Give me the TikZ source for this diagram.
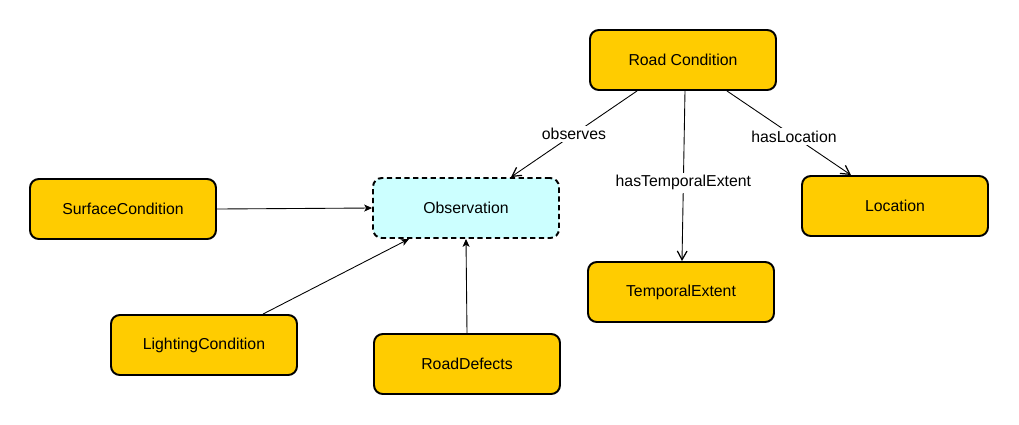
\documentclass[tikz,border=0pt]{standalone}
\usepackage{fontspec}
\setmainfont{Liberation Sans}
\usetikzlibrary{arrows.meta}
\definecolor{gold}{HTML}{FFCC00}
\definecolor{lightcyan}{HTML}{CCFFFF}
\tikzset{
  concept/.style={draw, line width=1.1pt, rounded corners=5pt, fill=gold, minimum width=3.72cm, minimum height=1.2cm, font=\fontsize{9}{11}\selectfont},
  observ/.style={concept, fill=lightcyan, dashed, dash pattern=on 3pt off 2pt},
  rel/.style={line width=0.5pt, -{Straight Barb[length=5pt,width=5.5pt,line width=0.7pt]}},
  feed/.style={line width=0.5pt, -{Stealth[length=4.5pt,width=4pt,inset=1.2pt]}},
  lbl/.style={fill=white, inner sep=1.5pt, font=\fontsize{9}{11}\selectfont}
}
\begin{document}
\begin{tikzpicture}[x=0.02cm, y=-0.02cm]
				      \useasboundingbox (0,0) rectangle (1019,424);
				      \node[concept] (rc) at (683,60) {Road Condition};
				      \node[observ] (obs) at (466,208) {Observation};
				      \node[concept] (sc) at (123,209) {SurfaceCondition};
				      \node[concept] (loc) at (895,206) {Location};
				      \node[concept] (te) at (681,292) {TemporalExtent};
				      \node[concept] (lc) at (204,345) {LightingCondition};
				      \node[concept] (rd) at (467,364) {RoadDefects};
				      \draw[rel] ([xshift=-0.92cm]rc.south) -- ([xshift=0.9cm]obs.north) node[pos=0.5,lbl]{observes};
				      \draw[rel] ([xshift=0.04cm]rc.south) -- ([xshift=0.02cm]te.north) node[pos=0.54,lbl]{hasTemporalExtent};
				      \draw[rel] ([xshift=0.88cm]rc.south) -- ([xshift=-0.88cm]loc.north) node[pos=0.54,lbl]{hasLocation};
				      \draw[feed] (sc.east) -- (obs.west);
				      \draw[feed] ([xshift=1.18cm]lc.north) -- ([xshift=-1.14cm]obs.south);
				      \draw[feed] (rd.north) -- (obs.south);
			      \end{tikzpicture}
\end{document}
